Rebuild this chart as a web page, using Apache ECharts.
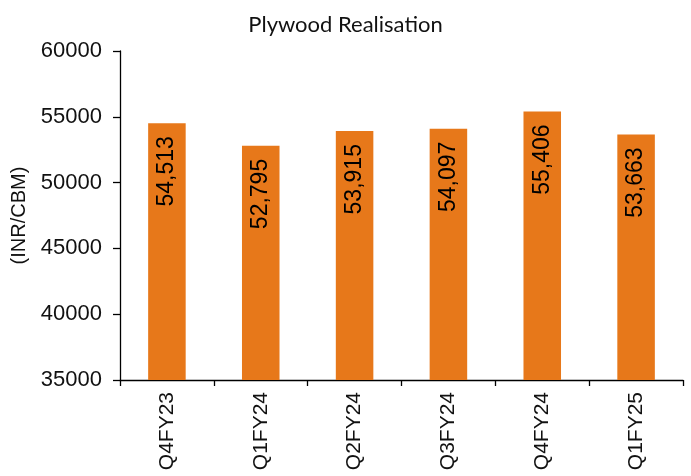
<!DOCTYPE html>
<html>
<head>
<meta charset="utf-8">
<style>
  html, body { margin: 0; padding: 0; background: #fff; }
  #chart { width: 691px; height: 476px; }
</style>
<script src="https://cdn.jsdelivr.net/npm/echarts@6/dist/echarts.min.js"></script>
</head>
<body>
<div id="chart"></div>
<script>
// Quarterly plywood realisation, INR per cubic metre
const quarters = ['Q4FY23', 'Q1FY24', 'Q2FY24', 'Q3FY24', 'Q4FY24', 'Q1FY25'];
const realisation = [54513, 52795, 53915, 54097, 55406, 53663];
const yMin = 35000;
const yMax = 60000;
const yStep = 5000;

const chart = echarts.init(document.getElementById('chart'), null, { renderer: 'canvas' });

const axisFont = 'Liberation Sans, Arial, sans-serif';

chart.setOption({
  animation: false,
  backgroundColor: '#ffffff',
  title: {
    text: 'Plywood Realisation',
    left: 'center',
    top: 9,
    textStyle: {
      fontFamily: 'Lato, "Open Sans", sans-serif',
      fontWeight: 'normal',
      fontSize: 22,
      color: '#111'
    }
  },
  grid: { left: 120, right: 8, top: 51, bottom: 96 },
  xAxis: {
    type: 'category',
    data: quarters,
    axisLine: { lineStyle: { color: '#000', width: 1.3 } },
    axisTick: { show: true, length: 6, lineStyle: { color: '#000', width: 1.3 } },
    axisLabel: {
      rotate: 90,
      margin: 12,
      fontFamily: axisFont,
      fontSize: 21,
      color: '#111'
    }
  },
  yAxis: {
    type: 'value',
    min: yMin,
    max: yMax,
    interval: yStep,
    name: '(INR/CBM)',
    nameLocation: 'middle',
    nameGap: 86,
    nameTextStyle: { fontFamily: axisFont, fontSize: 20, color: '#111' },
    axisLine: { show: true, lineStyle: { color: '#000', width: 1.3 } },
    axisTick: { show: true, length: 7, lineStyle: { color: '#000', width: 1.3 } },
    axisLabel: {
      margin: 18,
      fontFamily: axisFont,
      fontSize: 22,
      color: '#111',
      formatter: v => String(v)
    },
    splitLine: { show: false }
  },
  series: [{
    type: 'bar',
    data: realisation,
    barWidth: '40%',
    itemStyle: { color: '#E7781A' },
    label: {
      show: true,
      position: 'insideTop',
      distance: 13,
      rotate: 90,
      align: 'right',
      verticalAlign: 'middle',
      fontFamily: axisFont,
      fontSize: 23,
      color: '#000',
      formatter: p => p.value.toLocaleString('en-US')
    }
  }]
});
</script>
</body>
</html>
